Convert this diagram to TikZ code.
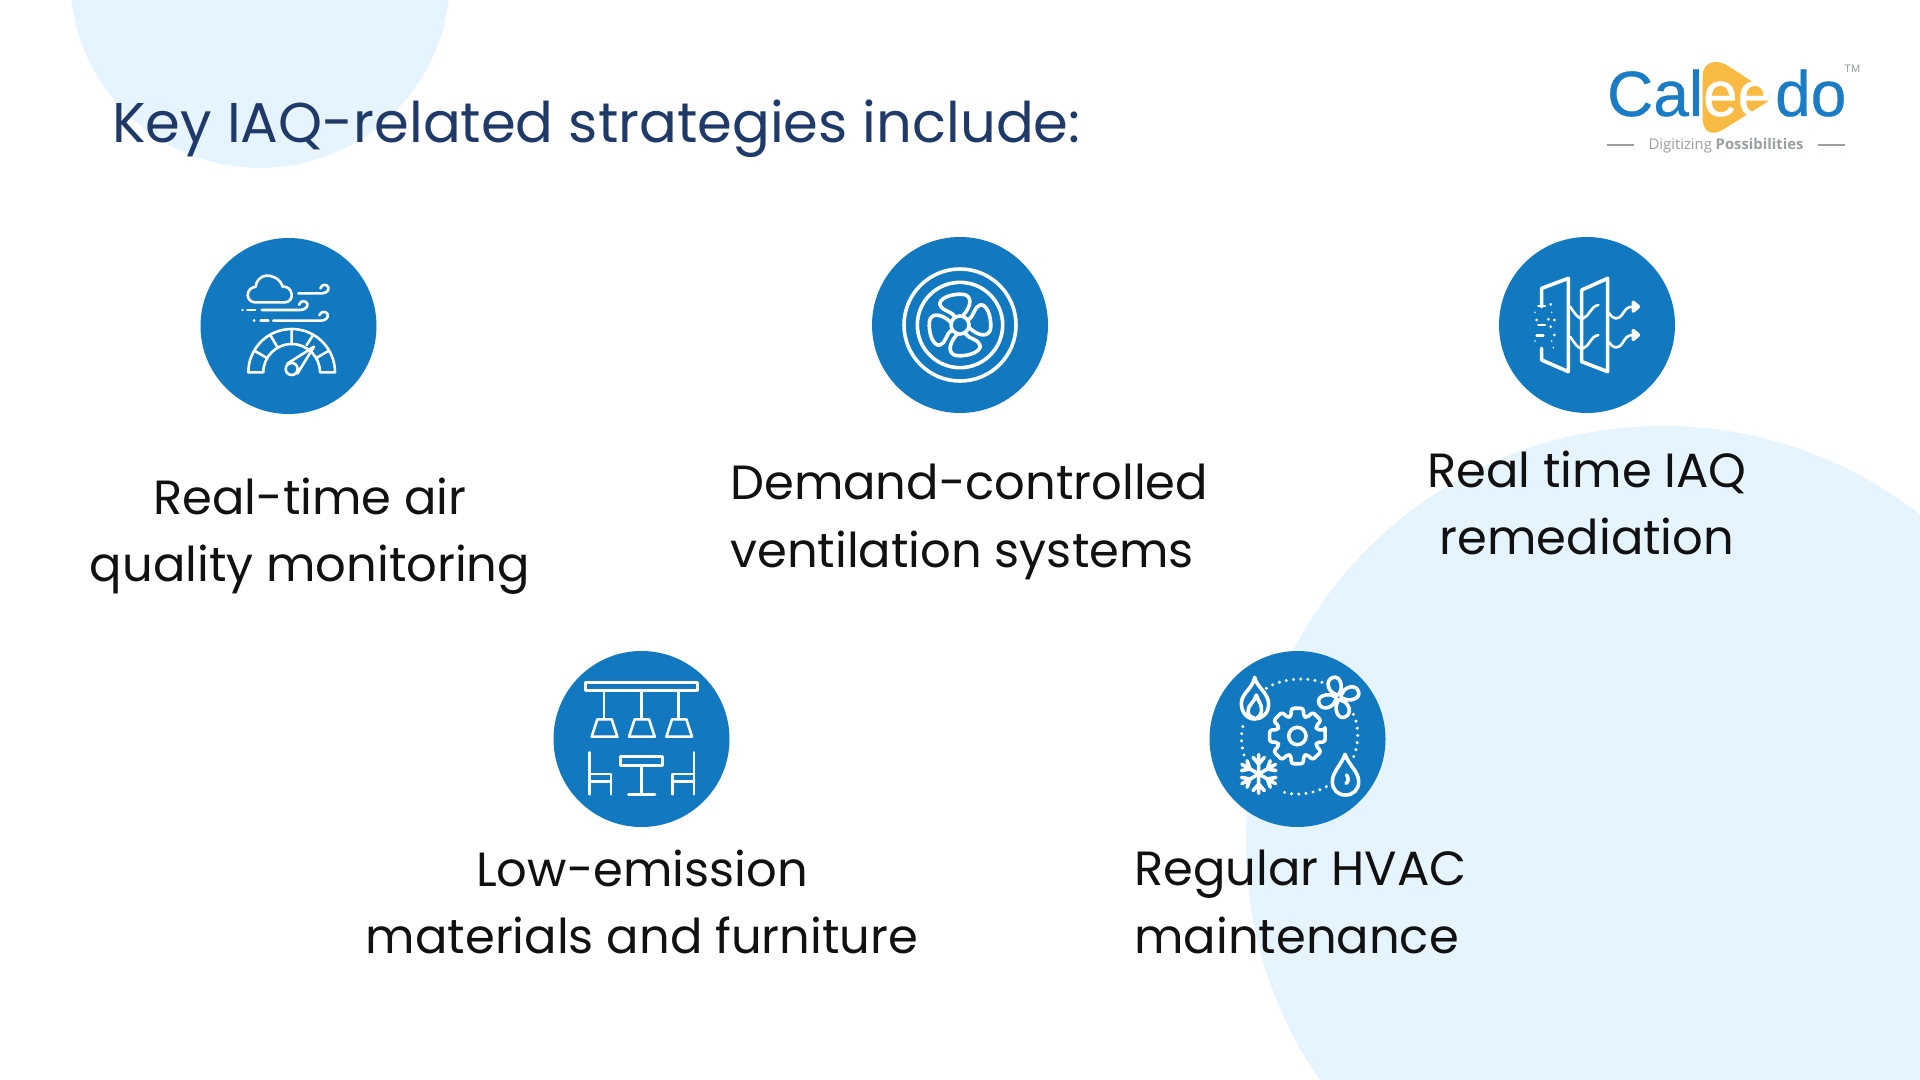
\documentclass[tikz,border=0pt]{standalone}
\usepackage{fontspec}
\setmainfont{Poppins}
\newfontfamily\logofont{Liberation Sans}
\newfontfamily\logoheavy[FakeBold=0.5]{Liberation Sans}
\newfontfamily\tagfont{Open Sans}
\definecolor{bgblue}{HTML}{E5F4FE}
\definecolor{iconblue}{HTML}{1279C1}
\definecolor{titleblue}{HTML}{1F3A68}
\definecolor{labelink}{HTML}{111111}
\definecolor{logoblue}{HTML}{1A7CC4}
\definecolor{logoyellow}{HTML}{F9BA43}
\definecolor{logogrey}{HTML}{9A9FA3}
\tikzset{
  disc/.style={circle,fill=iconblue,minimum size=88pt,inner sep=0pt},
  label/.style={inner sep=0pt,text=labelink,font=\fontsize{24}{33.6}\selectfont},
  iconline/.style={draw=white,line width=1.3pt,line cap=round,line join=round},
  iconthick/.style={draw=white,line width=1.8pt,line cap=round,line join=round},
  zoomed/.style={x=0.16667pt,y=-0.16667pt}
}
\begin{document}
\begin{tikzpicture}[x=0.5pt,y=-0.5pt]
\useasboundingbox (0,0) rectangle (1920,1080);
\fill[white] (0,0) rectangle (1920,1080);
\begin{scope}
\clip (0,0) rectangle (1920,1080);
\fill[bgblue] (260,-22) circle [radius=95pt];
\fill[bgblue] (1663,843) circle [radius=208.5pt];
\end{scope}

\node[anchor=west,inner sep=0pt,text=titleblue,font=\fontsize{28}{34}\selectfont] (title) at (112,129) {Key IAQ-related strategies include:};

\node[disc] (d1) at (288.5,326) {};
\node[disc] (d2) at (960,325) {};
\node[disc] (d3) at (1587,325) {};
\node[disc] (d4) at (641.5,739) {};
\node[disc] (d5) at (1297.5,739) {};

\node[label,align=center] (l1) at (310,536) {Real-time air\\quality monitoring};
\node[label,align=left,anchor=west] (l2) at (730,522) {Demand-controlled\\ventilation systems};
\node[label,align=center] (l3) at (1587,503) {Real time IAQ\\remediation};
\node[label,align=center] (l4) at (642,902) {Low-emission\\materials and furniture};
\node[label,align=left,anchor=west] (l5) at (1134,902) {Regular HVAC\\maintenance};

% icon 1: wind and gauge
\begin{scope}[shift={(190,225)},zoomed]
\draw[iconline] (195,232) -- (285,232) .. controls (300,232) and (307,218) .. (305,207) .. controls (303,192) and (290,183) .. (278,185) .. controls (270,160) and (245,150) .. (228,152) .. controls (212,153) and (198,168) .. (197,185) .. controls (182,187) and (173,198) .. (173,210) .. controls (173,222) and (183,232) .. (195,232) -- cycle;
\draw[iconline] (325,205) -- (395,205) .. controls (410,205) and (418,195) .. (415,187) .. controls (412,178) and (396,175) .. (391,190);
\draw[iconline] (215,255) -- (330,255) .. controls (345,255) and (355,245) .. (352,236) .. controls (349,227) and (332,224) .. (327,239);
\draw[iconline] (250,287) -- (392,287) .. controls (407,287) and (416,277) .. (413,268) .. controls (410,259) and (393,256) .. (388,271);
\draw[iconline] (172,255) -- (195,255) (157,255) -- (158,255) (212,287) -- (235,287) (192,287) -- (193,287);
\draw[iconline] (175,442) arc[start angle=180,end angle=360,radius=130] -- (390,442) arc[start angle=360,end angle=180,radius=85] -- cycle;
\draw[iconline] (305,312) -- (305,357) (240,329) -- (262,366) (193,377) -- (231,399) (370,329) -- (350,360) (417,377) -- (379,399);
\draw[iconline] (292,416) -- (372,365) -- (322,446);
\draw[iconline] (305,432) circle [radius=18];
\end{scope}

% icon 2: fan
\begin{scope}[shift={(860,225)},zoomed]
\draw[iconthick] (300,300) circle [radius=168];
\draw[iconthick] (300,300) circle [radius=128];
\draw[iconthick] (300,300) circle [radius=27];
\foreach \r in {0,90,180,270}{
  \begin{scope}[shift={(300,300)},rotate=\r]
  \draw[iconthick] (-15,-25) .. controls (-25,-42) and (-55,-42) .. (-60,-60) .. controls (-65,-78) and (-30,-95) .. (10,-92) .. controls (35,-88) and (38,-60) .. (8,-27);
  \end{scope}
}
\end{scope}

% icon 3: filter panels
\begin{scope}[shift={(1490,225)},zoomed]
\draw[iconthick] (155,245) -- (155,190) -- (235,160) -- (235,440) -- (155,405) -- (155,370);
\draw[iconthick] (275,195) -- (353,160) -- (353,440) -- (275,410) -- cycle;
\draw[iconline] (240,245) .. controls (255,265) and (265,285) .. (280,280) .. controls (300,272) and (300,245) .. (325,240);
\draw[iconline] (240,335) .. controls (255,355) and (265,375) .. (280,370) .. controls (300,362) and (300,335) .. (325,330);
\draw[iconline] (358,265) .. controls (370,285) and (385,285) .. (397,268) .. controls (407,252) and (412,245) .. (430,245);
\draw[iconline] (358,352) .. controls (370,372) and (385,372) .. (397,355) .. controls (407,338) and (412,330) .. (430,330);
\draw[iconthick] (430,232) -- (445,245) -- (430,258) -- cycle (430,317) -- (445,330) -- (430,343) -- cycle;
\draw[iconline] (145,243) -- (165,243) (145,300) -- (165,300) (140,332) -- (160,332);
\foreach \p/\q in {182/238,140/285,175/283,193/285,182/305,193/330}{\fill[white] (\p,\q) circle [radius=4.5];}
\foreach \p/\q in {135/262,185/262,135/348,185/348,190/368}{\fill[white] (\p,\q) circle [radius=2.5];}
\end{scope}

% icon 4: lamps and furniture
\begin{scope}[shift={(540,640)},zoomed]
\draw[iconline] (137,128) rectangle (472,152);
\foreach \s in {0,112,224}{
  \draw[iconline] (192+\s,152) -- (192+\s,238);
  \draw[iconline] (172+\s,238) -- (215+\s,238) -- (232+\s,290) -- (155+\s,290) -- cycle;
}
\draw[iconline] (148,337) -- (148,463) (148,402) -- (213,402) -- (213,463) (148,425) -- (213,425);
\draw[iconline] (462,337) -- (462,463) (462,402) -- (397,402) -- (397,463) (462,425) -- (397,425);
\draw[iconline] (242,350) rectangle (368,376);
\draw[iconline] (304,376) -- (304,463) (265,463) -- (345,463);
\end{scope}

% icon 5: HVAC cycle
\begin{scope}[shift={(1198,640)},zoomed]
\begin{scope}[shift={(298,288)}]
\draw[iconthick,rounded corners=1.2pt] (-12:85) foreach \a in {0,45,...,315} { -- (\a-12:85) -- (\a+12:85) -- (\a+18:62) -- (\a+27:62) } -- cycle;
\draw[iconthick] (0,0) circle [radius=26];
\end{scope}
\draw[iconthick] (170,112) .. controls (175,140) and (212,160) .. (212,192) .. controls (212,220) and (192,237) .. (170,237) .. controls (145,237) and (130,215) .. (130,190) .. controls (130,160) and (165,145) .. (170,112) -- cycle;
\draw[iconthick] (175,165) .. controls (172,185) and (148,195) .. (150,215) .. controls (152,228) and (160,233) .. (168,234) (175,165) .. controls (178,180) and (195,195) .. (190,215) .. controls (188,225) and (182,232) .. (176,234);
\begin{scope}[shift={(422,172)}]
\draw[iconthick] (0,0) circle [radius=9];
\foreach \a in {15,105,195,285}{
  \draw[iconthick,rotate=\a] (12,-6) .. controls (22,-26) and (60,-28) .. (62,-2) .. controls (64,22) and (26,22) .. (12,6);
}
\end{scope}
\begin{scope}[shift={(182,402)}]
\foreach \a in {30,90,...,330}{
  \begin{scope}[rotate=\a]
  \draw[iconthick] (0,0) -- (58,0) (50,-17) -- (30,0) -- (50,17);
  \end{scope}
}
\end{scope}
\draw[iconthick] (441,343) .. controls (430,375) and (403,395) .. (403,425) .. controls (403,450) and (420,465) .. (442,465) .. controls (465,465) and (482,450) .. (482,425) .. controls (482,395) and (452,375) .. (441,343) -- cycle;
\draw[iconthick] (446,405) .. controls (452,415) and (452,425) .. (444,430);
\draw[draw=white,line width=1.7pt,line cap=round,dash pattern=on 0pt off 3.6pt]
  (205,145) .. controls (240,120) and (320,105) .. (380,130)
  (455,205) .. controls (485,240) and (485,310) .. (465,355)
  (385,440) .. controls (340,465) and (280,470) .. (240,450)
  (138,345) .. controls (128,310) and (128,280) .. (137,250);
\end{scope}

% logo
\begin{scope}[shift={(1590,40)},x=0.16667pt,y=-0.16667pt]
\fill[logoyellow] (338,105) .. controls (340,70) and (370,55) .. (410,75) -- (525,150) .. controls (545,163) and (545,177) .. (525,190) -- (400,268) .. controls (365,290) and (340,275) .. (338,240) -- cycle;
\node[anchor=base west,inner sep=0pt,font=\logoheavy\fontsize{32}{32}\selectfont] (logo) at (50,228) {\textcolor{logoblue}{Cal}\textcolor{white}{\scalebox{0.97}[1]{ee}}\kern1.5pt\textcolor{logoblue}{do}};
\node[inner sep=0pt,text=logogrey,font=\logofont\fontsize{5.5}{6}\selectfont] (tm) at (787,85) {TM};
\node[anchor=base,inner sep=0pt,text=logogrey,font=\tagfont\fontsize{7.4}{8}\selectfont] (tag) at (408,328) {Digitizing \textbf{Possibilities}};
\coordinate (ruleA) at (50,315);
\coordinate (ruleB) at (132,315);
\coordinate (ruleC) at (685,315);
\coordinate (ruleD) at (765,315);
\draw[logogrey,line width=0.7pt] (ruleA) -- (ruleB) (ruleC) -- (ruleD);
\end{scope}
\end{tikzpicture}
\end{document}
